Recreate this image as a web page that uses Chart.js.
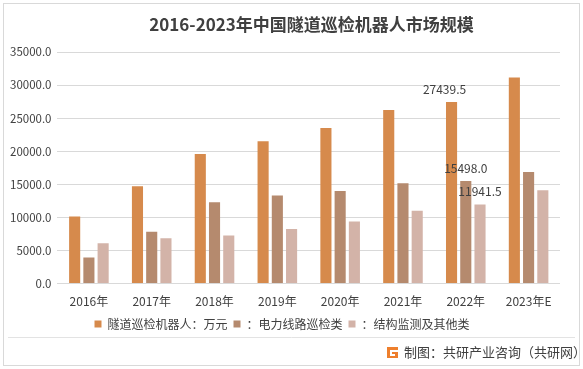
<!DOCTYPE html>
<html>
<head>
<meta charset="utf-8">
<script src="https://cdn.jsdelivr.net/npm/chart.js@4/dist/chart.umd.min.js"></script>
<style>
html,body{margin:0;padding:0;background:#fff;}
#wrap{position:relative;width:583px;height:369px;}
</style>
</head>
<body>
<div id="wrap"><canvas id="c" width="583" height="369"></canvas></div>
<script>
const categories = ['2016年','2017年','2018年','2019年','2020年','2021年','2022年','2023年E'];
const robotTotal = [10150, 14700, 19600, 21500, 23500, 26250, 27439.5, 31150];
const powerLine = [3950, 7850, 12280, 13300, 14000, 15150, 15498.0, 16850];
const structural = [6100, 6850, 7280, 8250, 9400, 11000, 11941.5, 14100];
const seriesNames = ['隧道巡检机器人：万元', '：电力线路巡检类', '：结构监测及其他类'];
const yTicks = [0, 5000, 10000, 15000, 20000, 25000, 30000, 35000];
const titleText = '2016-2023年中国隧道巡检机器人市场规模';
const footerText = '制图：共研产业咨询（共研网）';
const labeledIndex = 6;

const FONT = '"Noto Sans CJK SC", "Noto Sans", sans-serif';
const colors = ['#D68A4C', '#B58A6E', '#D3B3A8'];

const framePlugin = {
  id: 'frame',
  beforeDraw(chart) {
    const ctx = chart.ctx;
    ctx.save();
    ctx.fillStyle = '#fff';
    ctx.fillRect(0, 0, chart.width, chart.height);
    ctx.strokeStyle = '#d9d9d9';
    ctx.lineWidth = 1;
    ctx.strokeRect(3.5, 3.5, chart.width - 7, chart.height - 7);
    ctx.restore();
  },
  afterDraw(chart) {
    const ctx = chart.ctx;
    ctx.save();
    ctx.fillStyle = '#404040';
    ctx.font = 'bold 17px ' + FONT;
    ctx.textAlign = 'center';
    ctx.textBaseline = 'middle';
    ctx.fillText(titleText, 311.5, 25);
    ctx.strokeStyle = '#e3e3e3';
    ctx.beginPath();
    ctx.moveTo(8, 337.5); ctx.lineTo(575, 337.5);
    ctx.stroke();
    ctx.fillStyle = '#EE7F2D';
    ctx.fillRect(387, 347, 11, 11);
    ctx.fillStyle = '#fff';
    ctx.fillRect(390, 350, 8, 2);
    ctx.fillRect(390, 350, 2, 6);
    ctx.fillRect(390, 354, 5, 2);
    ctx.fillStyle = '#404040';
    ctx.font = '13px ' + FONT;
    ctx.textAlign = 'left';
    ctx.fillText(footerText, 404, 352);
    ctx.font = '12px ' + FONT;
    ctx.textAlign = 'center';
    const offsets = [[-7, -13], [0, -13], [0, -13]];
    chart.data.datasets.forEach((ds, di) => {
      const el = chart.getDatasetMeta(di).data[labeledIndex];
      const v = ds.data[labeledIndex];
      ctx.fillText(v.toFixed(1), el.x + offsets[di][0], el.y + offsets[di][1]);
    });
    ctx.restore();
  }
};

new Chart(document.getElementById('c'), {
  type: 'bar',
  data: {
    labels: categories,
    datasets: [
      { label: seriesNames[0], data: robotTotal, backgroundColor: colors[0] },
      { label: seriesNames[1], data: powerLine, backgroundColor: colors[1] },
      { label: seriesNames[2], data: structural, backgroundColor: colors[2] }
    ]
  },
  options: {
    responsive: false,
    animation: false,
    devicePixelRatio: 1,
    layout: { padding: { left: 4, right: 23, top: 52, bottom: 29 } },
    datasets: { bar: { categoryPercentage: 0.68, barPercentage: 0.78 } },
    plugins: {
      title: { display: false },
      legend: {
        position: 'bottom',
        labels: {
          color: '#404040',
          font: { family: FONT, size: 12 },
          boxWidth: 7, boxHeight: 7,
          padding: 6
        }
      },
      tooltip: { enabled: false }
    },
    scales: {
      x: {
        grid: { display: false },
        border: { display: false },
        ticks: { color: '#404040', font: { family: FONT, size: 12 }, padding: 3 }
      },
      y: {
        min: 0, max: 35000,
        afterBuildTicks: (axis) => { axis.ticks = yTicks.map(v => ({ value: v })); },
        grid: { color: '#d9d9d9', drawTicks: false },
        border: { display: false },
        ticks: {
          color: '#404040',
          font: { family: FONT, size: 11.5 },
          padding: 6,
          callback: (v) => Number(v).toFixed(1)
        }
      }
    }
  },
  plugins: [framePlugin]
});
</script>
</body>
</html>
